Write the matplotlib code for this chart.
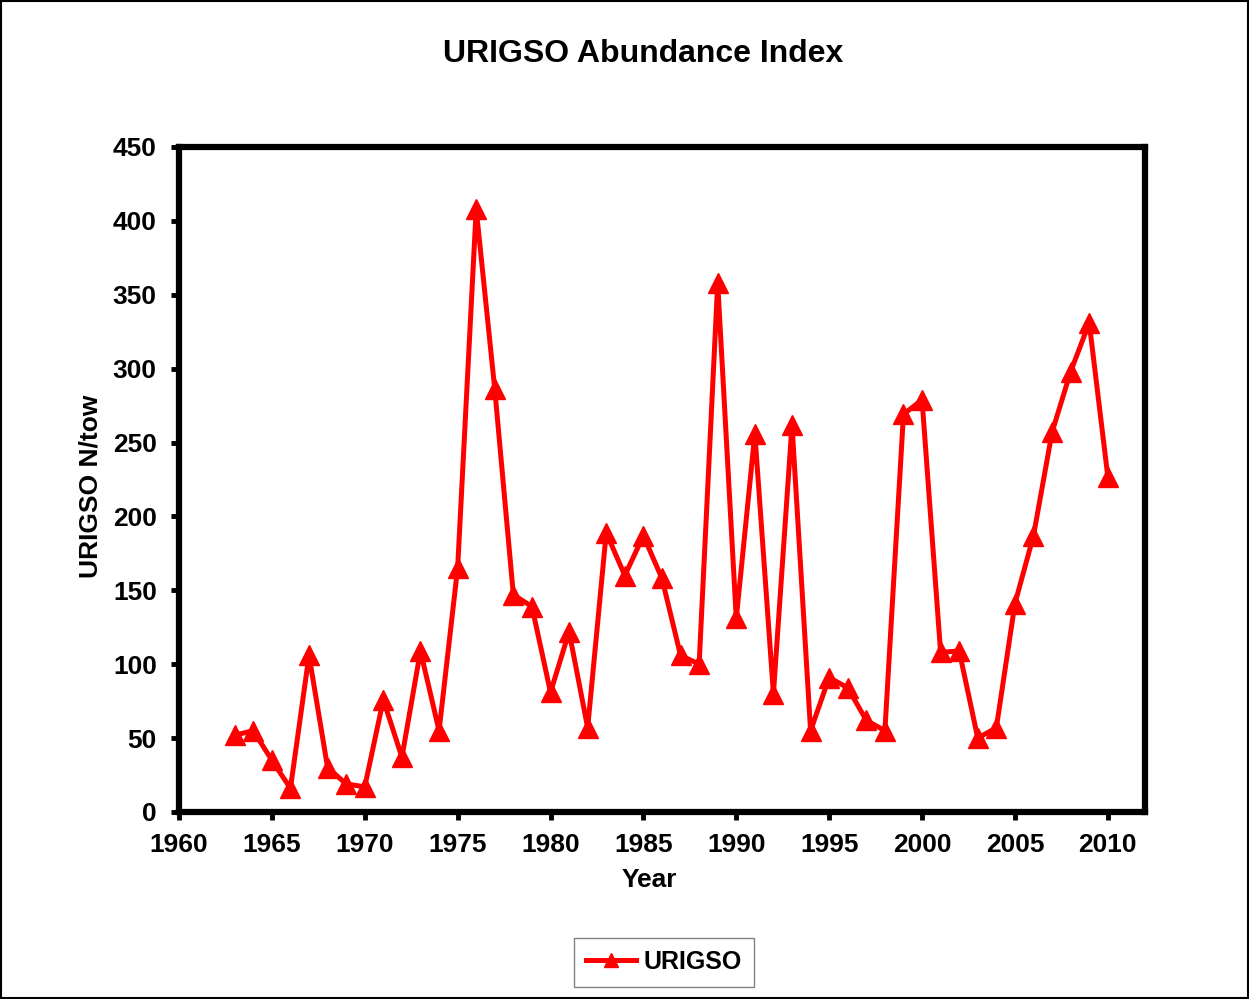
import matplotlib
matplotlib.use("Agg")
import matplotlib.pyplot as plt
from matplotlib.patches import Rectangle

# URIGSO 指数データ
years = list(range(1963, 2011))
urigso = [52, 55, 35, 16, 106, 30, 19, 17, 76, 37, 109, 55,
          165, 408, 286, 147, 139, 81, 122, 57, 189, 160, 187, 158,
          106, 100, 358, 131, 256, 80, 262, 55, 91, 84, 62, 55,
          269, 279, 108, 109, 50, 57, 141, 187, 257, 298, 331, 227]

x_ticks = list(range(1960, 2011, 5))
y_ticks = list(range(0, 451, 50))

plt.rcParams['font.family'] = ['Liberation Sans', 'DejaVu Sans']
plt.rcParams['font.weight'] = 'bold'

fig = plt.figure(figsize=(12.49, 9.99), dpi=100)
ax = fig.add_axes([0.1433, 0.1872, 0.9167 - 0.1433, 0.8529 - 0.1872])

ax.plot(years, urigso, color='#ff0000', lw=3.6, marker='^', ms=15,
        markeredgecolor='#ff0000', label='URIGSO', clip_on=False)

ax.set_xlim(1960, 2012)
ax.set_ylim(0, 450)
ax.set_xticks(x_ticks)
ax.set_yticks(y_ticks)

for s in ax.spines.values():
    s.set_linewidth(4.5)
    s.set_color('black')

ax.tick_params(axis='both', direction='out', length=6, width=3.5,
               labelsize=19, top=False, right=False)
ax.tick_params(axis='y', pad=10)
ax.tick_params(axis='x', pad=9)
for lab in ax.get_xticklabels() + ax.get_yticklabels():
    lab.set_fontweight('bold')

ax.set_xlabel('Year', fontsize=19, fontweight='bold')
ax.set_ylabel('URIGSO N/tow', fontsize=19, fontweight='bold')
ax.xaxis.set_label_coords(0.4865, -0.102, transform=ax.transAxes)
ax.yaxis.set_label_coords(-0.092, 0.489, transform=ax.transAxes)
ax.xaxis.label.set_va('center')
ax.yaxis.label.set_va('center')

fig.text(0.515, 1 - 54 / 999, 'URIGSO Abundance Index', fontsize=23,
         fontweight='bold', ha='center', va='center')

leg = fig.legend(loc='center', bbox_to_anchor=(664 / 1249, 1 - 962 / 999),
                 fontsize=18, markerscale=0.7, fancybox=False, framealpha=1,
                 edgecolor='#808080', handlelength=2.0, borderpad=0.5,
                 handletextpad=0.3)
leg.get_frame().set_linewidth(1.0)
for t in leg.get_texts():
    t.set_fontweight('bold')

# 図全体の枠線
fig.patches.append(Rectangle((0.0008, 0.001), 0.9984, 0.998, transform=fig.transFigure,
                             fill=False, edgecolor='black', linewidth=1.5))

fig.savefig('out.png', dpi=100)
